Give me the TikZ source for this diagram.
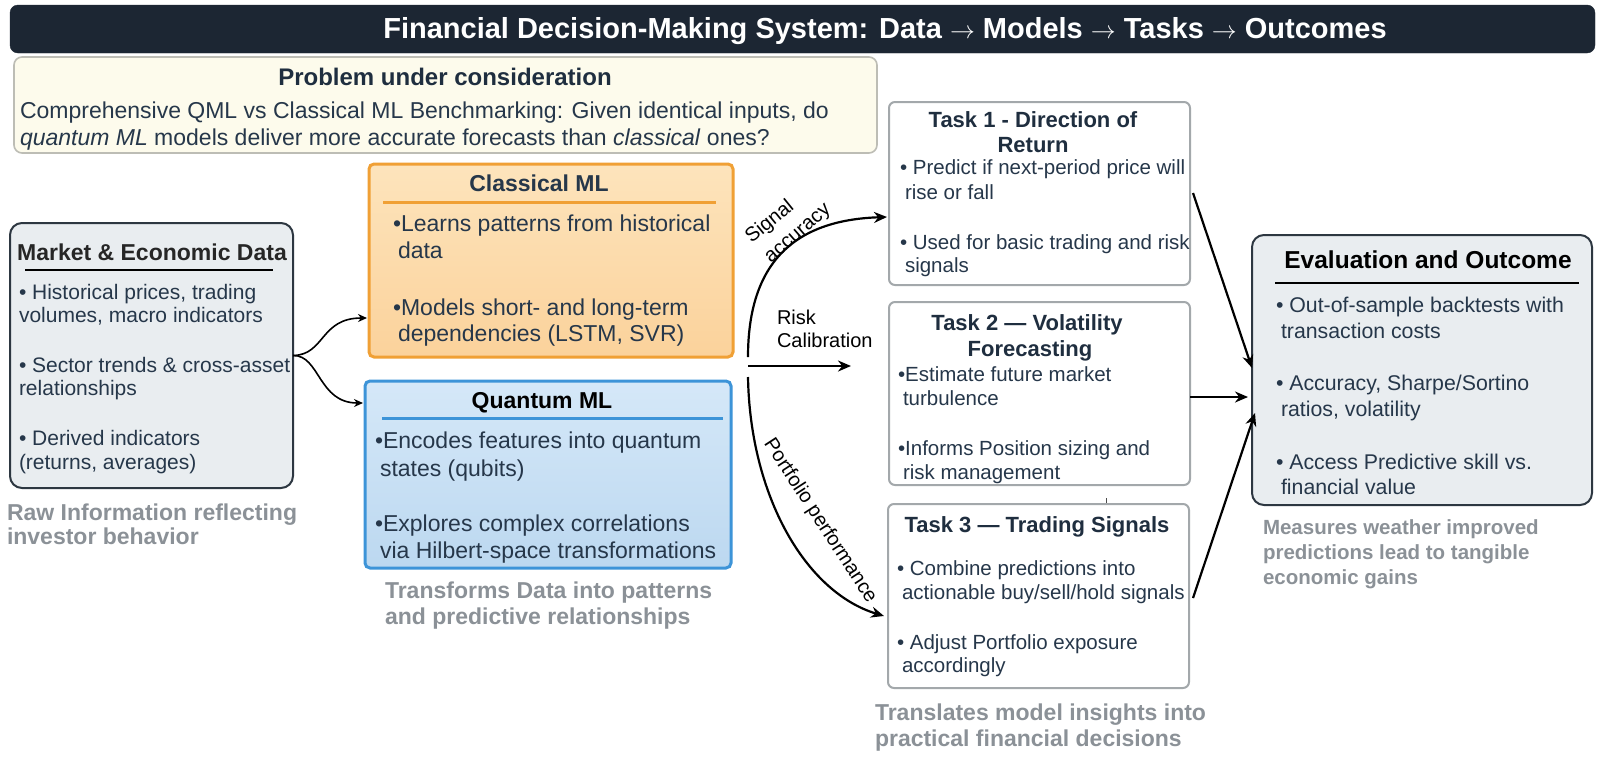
\documentclass[tikz,border=0pt]{standalone}
\usepackage{fontspec}
\setmainfont{Liberation Sans}
\usetikzlibrary{arrows.meta}
\definecolor{barbg}{HTML}{1C2633}
\definecolor{ink}{HTML}{26374A}
\definecolor{inkdark}{HTML}{1F2E3F}
\definecolor{capgray}{HTML}{8B9197}
\definecolor{probfill}{HTML}{FDFBEC}
\definecolor{probdraw}{HTML}{BDBDB5}
\definecolor{panelfill}{HTML}{E9EDF0}
\definecolor{paneldraw}{HTML}{2D3741}
\definecolor{orgdraw}{HTML}{F0A035}
\definecolor{orgtop}{HTML}{FDE4BC}
\definecolor{orgbot}{HTML}{FBD29B}
\definecolor{bluedraw}{HTML}{3D94D8}
\definecolor{bluetop}{HTML}{D5E8F8}
\definecolor{bluebot}{HTML}{BCD8F0}
\definecolor{taskdraw}{HTML}{A3A8AB}
\newcommand{\setfs}[1]{\fontsize{#1pt}{#1pt}\selectfont}
\begin{document}
\begin{tikzpicture}[x=1pt,y=-1pt,
  every node/.style={inner sep=0pt, outer sep=0pt},
  panel/.style={draw, anchor=north west},
  txtline/.style={anchor=base west, text=ink},
  ctrline/.style={anchor=base, text=ink},
  captxt/.style={anchor=base west, text=capgray, font=\setfs{23}\bfseries},
  bigarr/.style={draw=black, line width=2.2pt, -{Stealth[length=13pt,width=11pt]}},
  smallarr/.style={draw=black, line width=1.6pt, -{Stealth[length=9pt,width=8pt]}},
  mbody/.style={txtline, font=\setfs{21}},
  mlbody/.style={txtline, font=\setfs{23}},
  tbody/.style={txtline, font=\setfs{20.5}},
  ttitle/.style={ctrline, text=inkdark, font=\setfs{22}\bfseries},
  ebody/.style={txtline, font=\setfs{21.3}},
  arclbl/.style={text=black, font=\setfs{20}},
]
\useasboundingbox (0,0) rectangle (1600,758);
\fill[white] (0,0) rectangle (1600,758);

% title bar
\node[panel, draw=barbg, fill=barbg, rounded corners=8pt, minimum width=1585pt, minimum height=48pt] (bar) at (10,5) {};
\node[anchor=base, text=white, font=\setfs{29}\bfseries] (bartxt) at (885,38) {Financial Decision-Making System: Data $\rightarrow$ Models $\rightarrow$ Tasks $\rightarrow$ Outcomes};

% problem box
\node[panel, draw=probdraw, fill=probfill, line width=1.6pt, rounded corners=8pt, minimum width=863pt, minimum height=96pt] (prob) at (14,57) {};
\node[ctrline, text=inkdark, font=\setfs{24}\bfseries] (probt) at (445,85) {Problem under consideration};
\node[txtline, font=\setfs{23}] (prob1) at (20,118) {Comprehensive QML vs Classical ML Benchmarking: Given identical inputs, do};
\node[txtline, font=\setfs{23}] (prob2) at (20,145) {\textit{quantum ML} models deliver more accurate forecasts than \textit{classical} ones?};

% market box
\node[panel, draw=paneldraw, fill=panelfill, line width=2pt, rounded corners=12pt, minimum width=283pt, minimum height=265pt] (mkt) at (10,223) {};
\node[ctrline, text=black!85, font=\setfs{23}\bfseries] (mktt) at (152,260) {Market \& Economic Data};
\coordinate (mkla) at (25,270);
\coordinate (mklb) at (273,270);
\draw[line width=2.5pt, black] (mkla) -- (mklb);
\node[mbody] (mk1) at (19,299) {• Historical prices, trading};
\node[mbody] (mk2) at (19,322) {volumes, macro indicators};
\node[mbody] (mk3) at (19,372) {• Sector trends \& cross-asset};
\node[mbody] (mk4) at (19,395) {relationships};
\node[mbody] (mk5) at (19,445) {• Derived indicators};
\node[mbody] (mk6) at (19,469) {(returns, averages)};
\node[captxt] (mkc1) at (7,520) {Raw Information reflecting};
\node[captxt] (mkc2) at (7,544) {investor behavior};

% classical ML
\node[panel, draw=orgdraw, top color=orgtop, bottom color=orgbot, line width=3pt, rounded corners=5pt, minimum width=364pt, minimum height=193pt] (cml) at (369,164) {};
\node[ctrline, font=\setfs{23}\bfseries] (cmlt) at (539,191) {Classical ML};
\coordinate (cla) at (383,202);
\coordinate (clb) at (716,202);
\draw[line width=3pt, orgdraw] (cla) -- (clb);
\node[mlbody] (c1) at (393,231) {•Learns patterns from historical};
\node[mlbody] (c2) at (398,258) {data};
\node[mlbody] (c3) at (393,315) {•Models short- and long-term};
\node[mlbody] (c4) at (398,341) {dependencies (LSTM, SVR)};

% quantum ML
\node[panel, draw=bluedraw, top color=bluetop, bottom color=bluebot, line width=3pt, rounded corners=5pt, minimum width=366pt, minimum height=187pt] (qml) at (365,381) {};
\node[ctrline, text=black, font=\setfs{23}\bfseries] (qmlt) at (542,408) {Quantum ML};
\coordinate (qla) at (382,418);
\coordinate (qlb) at (723,418);
\draw[line width=3pt, bluedraw] (qla) -- (qlb);
\node[mlbody] (q1) at (375,448) {•Encodes features into quantum};
\node[mlbody] (q2) at (380,476) {states (qubits)};
\node[mlbody] (q3) at (375,531) {•Explores complex correlations};
\node[mlbody] (q4) at (380,558) {via Hilbert-space transformations};
\node[captxt] (qc1) at (385,598) {Transforms Data into patterns};
\node[captxt] (qc2) at (385,624) {and predictive relationships};

% market arrows
\coordinate (cin) at (367,318);
\coordinate (qin) at (363,403);
\draw[smallarr] (mkt.east) .. controls (325,355) and (320,318) .. (cin);
\draw[smallarr] (mkt.east) .. controls (320,355) and (318,403) .. (qin);

% tasks
\node[panel, draw=taskdraw, fill=white, line width=2pt, rounded corners=6pt, minimum width=301pt, minimum height=183pt] (t1) at (889,102) {};
\node[ttitle] (t1a) at (1033,127) {Task 1 - Direction of};
\node[ttitle] (t1b) at (1033,152) {Return};
\node[tbody] (t11) at (900,174) {• Predict if next-period price will};
\node[tbody] (t12) at (905,199) {rise or fall};
\node[tbody] (t13) at (900,249) {• Used for basic trading and risk};
\node[tbody] (t14) at (905,272) {signals};

\node[panel, draw=taskdraw, fill=white, line width=2pt, rounded corners=6pt, minimum width=301pt, minimum height=183pt] (t2) at (889,302) {};
\node[ttitle] (t2a) at (1027,330) {Task 2 — Volatility};
\node[ttitle] (t2b) at (1030,356) {Forecasting};
\node[tbody] (t21) at (898,381) {•Estimate future market};
\node[tbody] (t22) at (903,405) {turbulence};
\node[tbody] (t23) at (898,455) {•Informs Position sizing and};
\node[tbody] (t24) at (903,479) {risk management};

\coordinate (ticka) at (1106,498);
\coordinate (tickb) at (1106,505);
\draw[line width=1pt, black!70] (ticka) -- (tickb);

\node[panel, draw=taskdraw, fill=white, line width=2pt, rounded corners=6pt, minimum width=301pt, minimum height=184pt] (t3) at (888,504) {};
\node[ttitle] (t3a) at (1037,532) {Task 3 — Trading Signals};
\node[tbody] (t31) at (897,575) {• Combine predictions into};
\node[tbody] (t32) at (902,599) {actionable buy/sell/hold signals};
\node[tbody] (t33) at (897,649) {• Adjust Portfolio exposure};
\node[tbody] (t34) at (902,672) {accordingly};
\node[captxt] (tc1) at (875,720) {Translates model insights into};
\node[captxt] (tc2) at (875,746) {practical financial decisions};

% model -> task arrows
\coordinate (hubA) at (748,357);
\coordinate (hubB) at (748,366);
\coordinate (hubC) at (748,377);
\coordinate (t1in) at (887,217);
\coordinate (t2in) at (851,366);
\coordinate (t3in) at (884,616);
\draw[bigarr] (hubA) .. controls (748,262) and (795,220) .. (t1in);
\draw[bigarr] (hubB) -- (t2in);
\draw[bigarr] (hubC) .. controls (750,495) and (805,592) .. (t3in);
\node[arclbl, rotate=39] (sig1) at (770,222) {Signal};
\node[arclbl, rotate=41] (sig2) at (799,235) {accuracy};
\node[anchor=base west, text=black, font=\setfs{20}] (risk1) at (777,324) {Risk};
\node[anchor=base west, text=black, font=\setfs{20}] (risk2) at (777,347) {Calibration};
\node[arclbl, rotate=-57] (port) at (820,521) {Portfolio performance};

% evaluation
\node[panel, draw=paneldraw, fill=panelfill, line width=2pt, rounded corners=12pt, minimum width=340pt, minimum height=270pt] (ev) at (1252,235) {};
\node[ctrline, text=black, font=\setfs{24.5}\bfseries] (evt) at (1428,268) {Evaluation and Outcome};
\coordinate (ela) at (1275,283);
\coordinate (elb) at (1579,283);
\draw[line width=2.5pt, black] (ela) -- (elb);
\node[ebody] (e11) at (1276,312) {• Out-of-sample backtests with};
\node[ebody] (e12) at (1281,338) {transaction costs};
\node[ebody] (e13) at (1276,390) {• Accuracy, Sharpe/Sortino};
\node[ebody] (e14) at (1281,416) {ratios, volatility};
\node[ebody] (e15) at (1276,469) {• Access Predictive skill vs.};
\node[ebody] (e16) at (1281,494) {financial value};
\node[captxt, font=\setfs{20.5}\bfseries] (ec1) at (1263,534) {Measures weather improved};
\node[captxt, font=\setfs{20.5}\bfseries] (ec2) at (1263,559) {predictions lead to tangible};
\node[captxt, font=\setfs{20.5}\bfseries] (ec3) at (1263,584) {economic gains};

% task -> evaluation arrows
\coordinate (t1o) at (1193,193);
\coordinate (t2o) at (1190,397);
\coordinate (t3o) at (1193,598);
\coordinate (e1) at (1252,368);
\coordinate (e2) at (1248,397);
\coordinate (e3) at (1255,413);
\draw[bigarr] (t1o) -- (e1);
\draw[bigarr] (t2o) -- (e2);
\draw[bigarr] (t3o) -- (e3);
\end{tikzpicture}
\end{document}
